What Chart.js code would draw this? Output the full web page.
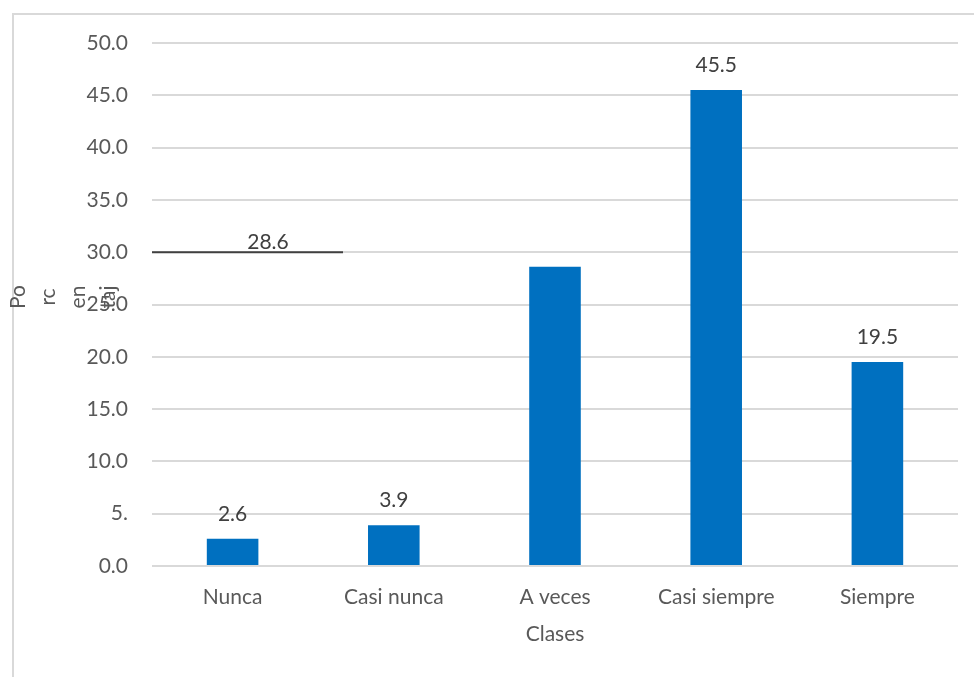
<!DOCTYPE html>
<html>
<head>
<meta charset="utf-8">
<script src="https://cdn.jsdelivr.net/npm/chart.js@4/dist/chart.umd.min.js"></script>
<style>
  body { margin: 0; background: #ffffff; }
  #wrap { position: relative; width: 974px; height: 677px; }
  #frame { position: absolute; left: 12px; top: 13px; right: -2px; bottom: -2px;
           border-left: 2px solid #d9d9d9; border-top: 2px solid #d9d9d9; }
  canvas { position: absolute; left: 0; top: 0; }
</style>
</head>
<body>
<div id="wrap">
  <div id="frame"></div>
  <canvas id="myChart" width="974" height="677"></canvas>
</div>
<script>
// categories and percentages
const clases = ['Nunca', 'Casi nunca', 'A veces', 'Casi siempre', 'Siempre'];
const porcentajes = [2.6, 3.9, 28.6, 45.5, 19.5];
// y axis tick labels (the 5.0 one is cut short)
const yTickLabels = ['0.0', '5.', '10.0', '15.0', '20.0', '25.0', '30.0', '35.0', '40.0', '45.0', '50.0'];
// y axis title comes out broken into pieces
const yTitlePieces = ['Po', 'rc', 'en', 'taj'];

const FONT = 'Lato, "Open Sans", sans-serif';

// value labels above each bar, the "A veces" one is pulled off to the left with a leader line
const barLabels = {
    id: 'barLabels',
    afterDatasetsDraw(chart) {
        const ctx = chart.ctx;
        const meta = chart.getDatasetMeta(0);
        ctx.save();
        ctx.font = '21px ' + FONT;
        ctx.fillStyle = '#404040';
        ctx.textAlign = 'center';
        ctx.textBaseline = 'middle';
        meta.data.forEach((bar, i) => {
            const txt = porcentajes[i].toFixed(1);
            if (i === 2) {
                const lx = bar.x - 287;
                const ly = chart.scales.y.getPixelForValue(30);
                ctx.strokeStyle = '#404040';
                ctx.lineWidth = 2;
                ctx.beginPath();
                ctx.moveTo(chart.chartArea.left, ly);
                ctx.lineTo(bar.x - 212, ly);
                ctx.stroke();
                ctx.fillText(txt, lx, ly - 10);
            } else {
                ctx.fillText(txt, bar.x, bar.y - 25);
            }
        });
        ctx.restore();
    }
};

// broken rotated y axis title
const yTitle = {
    id: 'yTitle',
    afterDraw(chart) {
        const ctx = chart.ctx;
        ctx.save();
        ctx.font = '21px ' + FONT;
        ctx.fillStyle = '#595959';
        ctx.textAlign = 'center';
        ctx.textBaseline = 'middle';
        yTitlePieces.forEach((p, i) => {
            ctx.save();
            ctx.translate(18 + i * 30, 297);
            ctx.rotate(-Math.PI / 2);
            ctx.fillText(p, 0, 0);
            ctx.restore();
        });
        ctx.restore();
    }
};

const ctx = document.getElementById('myChart');

new Chart(ctx, {
    type: 'bar',
    data: {
        labels: clases,
        datasets: [{
            label: 'Porcentaje',
            data: porcentajes,
            backgroundColor: '#0070C0',
            barPercentage: 0.64,
            categoryPercentage: 0.5
        }]
    },
    options: {
        responsive: false,
        animation: false,
        layout: { padding: { top: 43, right: 16, left: 0, bottom: 26 } },
        plugins: {
            legend: { display: false },
            tooltip: { enabled: false }
        },
        scales: {
            x: {
                grid: { display: false, drawTicks: false },
                border: { display: false },
                ticks: { color: '#595959', font: { family: FONT, size: 21 }, padding: 19 },
                title: { display: true, text: 'Clases', color: '#595959',
                         font: { family: FONT, size: 21 }, padding: { top: 8 } },
                afterFit: (scale) => { scale.height = 85; }
            },
            y: {
                min: 0,
                max: 50,
                grid: { color: '#d9d9d9', lineWidth: 2, drawTicks: false },
                border: { display: false },
                ticks: {
                    stepSize: 5,
                    color: '#595959',
                    font: { family: FONT, size: 21 },
                    padding: 24,
                    callback: (v, i) => yTickLabels[i]
                },
                afterFit: (scale) => { scale.width = 152; }
            }
        }
    },
    plugins: [barLabels, yTitle]
});
</script>
</body>
</html>
